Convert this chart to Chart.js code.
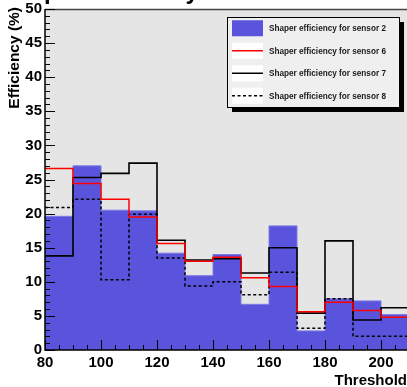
<!DOCTYPE html>
<html>
<head>
<meta charset="utf-8">
<script src="https://cdn.jsdelivr.net/npm/chart.js@4.4.0/dist/chart.umd.min.js"></script>
<style>
   html, body { margin: 0; padding: 0; background: #fff; overflow: hidden; width: 407px; height: 387px; }
   #wrap { position: absolute; left: 0; top: -20px; width: 420px; height: 407px; }
</style>
</head>
<body>
<div id="wrap"><canvas id="efficienza" width="420" height="407"></canvas></div>
<script>
// inizio di ogni bin di soglia (larghezza 10)
var soglie = [80, 90, 100, 110, 120, 130, 140, 150, 160, 170, 180, 190, 200];
var passo = 10;

// efficienza (%) per sensore
var sensore2 = [19.6, 27.0, 20.5, 20.4, 14.2, 10.9, 14.0, 6.7, 18.2, 2.8, 7.5, 7.2, 5.2];
var sensore6 = [26.6, 24.4, 22.1, 19.5, 15.6, 13.0, 13.6, 10.6, 9.3, 5.6, 7.0, 5.8, 4.8];
var sensore7 = [13.8, 25.3, 25.9, 27.4, 16.1, 13.2, 13.4, 11.3, 15.0, 5.4, 16.0, 4.4, 6.2];
var sensore8 = [20.9, 22.1, 10.3, 19.9, 13.5, 9.4, 10.0, 8.1, 11.4, 3.2, 7.5, 2.0, 2.0];

var etichette = [
   'Shaper efficiency for sensor 2',
   'Shaper efficiency for sensor 6',
   'Shaper efficiency for sensor 7',
   'Shaper efficiency for sensor 8'
];

var FONT = '"Liberation Sans", Arial, Helvetica, sans-serif';
var BLU = '#5a54dc';

// istogramma come linea a gradini: un punto per bin + chiusura a destra
function gradini(valori) {
   var punti = soglie.map(function (s, i) { return { x: s, y: valori[i] }; });
   punti.push({ x: soglie[soglie.length - 1] + passo, y: valori[valori.length - 1] });
   return punti;
}

const sfondo = {
   id: 'sfondo',
   beforeDraw: function (chart) {
      const a = chart.chartArea, ctx = chart.ctx;
      ctx.save();
      ctx.fillStyle = '#e5e5e5';
      ctx.fillRect(a.left, a.top, a.right - a.left, a.bottom - a.top);
      ctx.restore();
   }
};

const cornice = {
   id: 'cornice',
   afterDatasetsDraw: function (chart) {
      const a = chart.chartArea, ctx = chart.ctx;
      const x = chart.scales.x, y = chart.scales.y;
      ctx.save();
      // bordo superiore del riquadro
      ctx.strokeStyle = '#444';
      ctx.lineWidth = 1.5;
      ctx.beginPath();
      ctx.moveTo(a.left, a.top + 0.5);
      ctx.lineTo(a.right, a.top + 0.5);
      ctx.stroke();

      ctx.strokeStyle = '#000';
      ctx.lineWidth = 1;
      ctx.beginPath();
      // tacche asse y, verso l'interno
      for (var v = 0; v <= 50; v++) {
         var py = Math.round(y.getPixelForValue(v)) + 0.5;
         var l = (v % 5 === 0) ? 10 : 5;
         ctx.moveTo(a.left, py);
         ctx.lineTo(a.left + l, py);
      }
      // tacche asse x
      for (var s = 80; s <= 210; s += 5) {
         var px = Math.round(x.getPixelForValue(s)) + 0.5;
         var lx = ((s - 80) % 20 === 0) ? 10 : 5;
         ctx.moveTo(px, a.bottom);
         ctx.lineTo(px, a.bottom - lx);
      }
      ctx.stroke();

      ctx.lineWidth = 1.5;
      ctx.beginPath();
      ctx.moveTo(a.left, a.top);
      ctx.lineTo(a.left, a.bottom);
      ctx.lineTo(a.right, a.bottom);
      ctx.stroke();
      ctx.restore();
   }
};

const testi = {
   id: 'testi',
   afterDraw: function (chart) {
      const ctx = chart.ctx;
      ctx.save();
      ctx.fillStyle = '#000';

      // titolo, quasi tutto fuori dalla finestra
      ctx.font = 'bold 24px ' + FONT;
      ctx.textAlign = 'left';
      ctx.textBaseline = 'alphabetic';
      ctx.fillText('Shaper efficiency', 0, 19);

      ctx.font = 'bold 15px ' + FONT;
      ctx.textAlign = 'right';
      ctx.fillText('Threshold', 407, 405);

      ctx.translate(19, 27);
      ctx.rotate(-Math.PI / 2);
      ctx.font = 'bold 15.5px ' + FONT;
      ctx.fillText('Efficiency (%)', 0, 0);
      ctx.restore();
   }
};

const legenda = {
   id: 'legenda',
   afterDraw: function (chart) {
      const ctx = chart.ctx;
      const x0 = 227, y0 = 37, w = 172, h = 90;
      ctx.save();
      ctx.fillStyle = '#000';
      ctx.fillRect(x0 + 5, y0 + 5, w, h);
      ctx.fillStyle = '#efefef';
      ctx.fillRect(x0, y0, w, h);
      ctx.strokeStyle = '#000';
      ctx.lineWidth = 1;
      ctx.strokeRect(x0 + 0.5, y0 + 0.5, w, h);

      ctx.font = 'bold 8.2px ' + FONT;
      ctx.textAlign = 'left';
      ctx.textBaseline = 'middle';
      for (var i = 0; i < etichette.length; i++) {
         var cy = y0 + h * (i + 0.5) / 4;
         var sx = 232, sw = 31, sh = 16;
         if (i === 0) {
            ctx.fillStyle = BLU;
            ctx.fillRect(sx, cy - sh / 2, sw, sh);
         } else {
            ctx.fillStyle = '#fff';
            ctx.fillRect(sx, cy - sh / 2, sw, sh);
            ctx.beginPath();
            ctx.lineWidth = 1.5;
            ctx.strokeStyle = i === 1 ? '#ff0000' : '#000';
            ctx.setLineDash(i === 3 ? [3, 2.5] : []);
            ctx.moveTo(sx, cy);
            ctx.lineTo(sx + sw, cy);
            ctx.stroke();
            ctx.setLineDash([]);
         }
         ctx.fillStyle = '#1a1a1a';
         ctx.fillText(etichette[i], 269, cy + 0.5);
      }
      ctx.restore();
   }
};

const ctx = document.getElementById('efficienza').getContext('2d');
const grafico = new Chart(ctx, {
   type: 'line',
   data: {
      datasets: [{
         label: etichette[1],
         data: gradini(sensore6),
         stepped: true,
         borderColor: '#ff0000',
         borderWidth: 1.5,
         pointRadius: 0,
         fill: false,
         order: 1
      }, {
         label: etichette[2],
         data: gradini(sensore7),
         stepped: true,
         borderColor: '#000',
         borderWidth: 1.6,
         pointRadius: 0,
         fill: false,
         order: 2
      }, {
         label: etichette[3],
         data: gradini(sensore8),
         stepped: true,
         borderColor: '#000',
         borderWidth: 1.5,
         borderDash: [3, 2.5],
         pointRadius: 0,
         fill: false,
         order: 3
      }, {
         label: etichette[0],
         data: gradini(sensore2),
         stepped: true,
         borderColor: '#7e7ae4',
         borderWidth: 1,
         backgroundColor: BLU,
         pointRadius: 0,
         fill: 'origin',
         order: 4
      }]
   },
   options: {
      responsive: false,
      animation: false,
      layout: { padding: { top: 29, right: 11, bottom: 0, left: 0 } },
      plugins: {
         legend: { display: false },
         tooltip: { enabled: false }
      },
      scales: {
         x: {
            type: 'linear',
            min: 80,
            max: 210,
            grid: { display: false, drawTicks: false },
            border: { display: false },
            afterFit: function (scale) { scale.height = 37; },
            ticks: {
               stepSize: 20,
               includeBounds: false,
               autoSkip: false,
               maxRotation: 0,
               padding: 4,
               color: '#000',
               font: { family: FONT, size: 15, weight: 'bold' }
            }
         },
         y: {
            min: 0,
            max: 50,
            grid: { display: false, drawTicks: false },
            border: { display: false },
            afterFit: function (scale) { scale.width = 45; },
            ticks: {
               stepSize: 5,
               autoSkip: false,
               padding: 3,
               color: '#000',
               font: { family: FONT, size: 15, weight: 'bold' }
            }
         }
      }
   },
   plugins: [sfondo, cornice, testi, legenda]
});
</script>
</body>
</html>
